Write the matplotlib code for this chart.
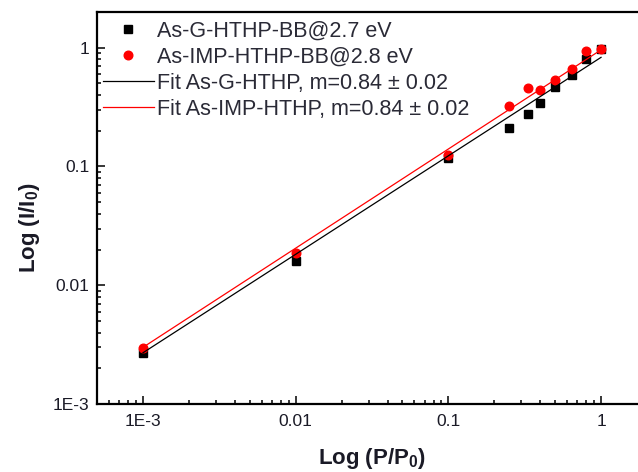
import numpy as np
import matplotlib
matplotlib.use("Agg")
import matplotlib.pyplot as plt
from matplotlib.ticker import FixedLocator, FixedFormatter, LogLocator, NullFormatter

plt.rcParams.update({
    "font.family": ["Liberation Sans", "DejaVu Sans"],
    "mathtext.fontset": "custom",
    "mathtext.rm": "Liberation Sans",
    "mathtext.bf": "Liberation Sans:bold",
})

# ---- data ------------------------------------------------------------------
P_G = [1e-3, 0.01, 0.1, 0.25, 0.33, 0.4, 0.5, 0.65, 0.8, 1.0]
I_G = [2.68e-3, 0.0159, 0.119, 0.213, 0.279, 0.345, 0.47, 0.593, 0.81, 0.98]

P_IMP = [1e-3, 0.01, 0.1, 0.25, 0.33, 0.4, 0.5, 0.65, 0.8, 1.0]
I_IMP = [2.96e-3, 0.0186, 0.124, 0.326, 0.461, 0.444, 0.539, 0.666, 0.944, 0.98]

FIT_X = [1e-3, 1.0]
FIT_G = [2.7e-3, 0.83]
FIT_IMP = [3.0e-3, 0.96]

TICK_VALUES = [1e-3, 1e-2, 1e-1, 1.0]
TICK_LABELS = ["1E-3", "0.01", "0.1", "1"]

LABEL_G = "As-G-HTHP-BB@2.7 eV"
LABEL_IMP = "As-IMP-HTHP-BB@2.8 eV"
LABEL_FIT_G = "Fit As-G-HTHP, m=0.84 \u00b1 0.02"
LABEL_FIT_IMP = "Fit As-IMP-HTHP, m=0.84 \u00b1 0.02"

TXT = "#1a1a26"
LEG_TXT = "#2a2a36"

fig = plt.figure(figsize=(6.38, 4.72), dpi=100)
# axes deliberately runs past the right edge, as in the cropped original
ax = fig.add_axes([97 / 638, 68 / 472, 550 / 638, 392 / 472])

ax.plot(P_G, I_G, ls="none", marker="s", ms=5.2, color="black", label=LABEL_G, zorder=3)
ax.plot(P_IMP, I_IMP, ls="none", marker="o", ms=6.2, color="#ff0000", label=LABEL_IMP, zorder=4)
ax.plot(FIT_X, FIT_G, color="black", lw=0.9, label=LABEL_FIT_G, zorder=5)
ax.plot(FIT_X, FIT_IMP, color="#ff0000", lw=0.9, label=LABEL_FIT_IMP, zorder=5)

ax.set_xscale("log")
ax.set_yscale("log")
ax.set_xlim(5e-4, 2)
ax.set_ylim(1e-3, 2)

for axis in (ax.xaxis, ax.yaxis):
    axis.set_major_locator(FixedLocator(TICK_VALUES))
    axis.set_major_formatter(FixedFormatter(TICK_LABELS))
    axis.set_minor_locator(LogLocator(base=10, subs=np.arange(2, 10), numticks=20))
    axis.set_minor_formatter(NullFormatter())

ax.tick_params(which="both", direction="in", width=1.1, colors="black", labelcolor=TXT)
ax.tick_params(which="major", length=5.5, labelsize=12.5)
ax.tick_params(which="minor", length=3.2)
ax.tick_params(axis="x", which="major", pad=7.5)
ax.tick_params(axis="y", which="major", pad=5.5)

for sp in ("left", "bottom", "top"):
    ax.spines[sp].set_linewidth(1.6)

ax.set_xlabel("Log (P/P$_\\mathbf{0}$)", fontsize=16, fontweight="bold", color=TXT)
ax.set_ylabel("Log (I/I$_\\mathbf{0}$)", fontsize=16, fontweight="bold", color=TXT)
ax.xaxis.set_label_coords((372 - 97) / 550, (404 - 446) / 392)
ax.yaxis.set_label_coords((42 - 97) / 550, (404 - 228) / 392)

ax.legend(loc="upper left", bbox_to_anchor=(0.011, 0.977), frameon=False,
          fontsize=15.5, borderpad=0, borderaxespad=0, handlelength=2.35,
          handletextpad=0.15, labelspacing=0.23, labelcolor=LEG_TXT)

fig.savefig("out.png", dpi=100)
